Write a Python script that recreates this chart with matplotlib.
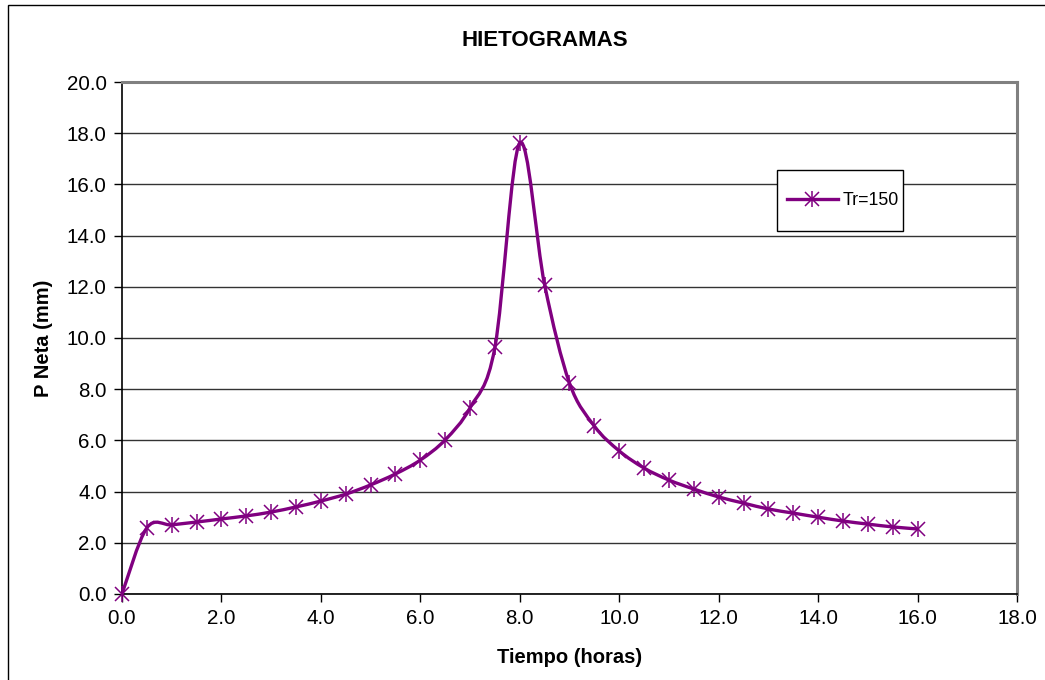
import numpy as np
import matplotlib.pyplot as plt
from matplotlib.path import Path
from matplotlib.patches import PathPatch, Rectangle
from matplotlib.lines import Line2D
from matplotlib.legend_handler import HandlerLine2D, HandlerTuple
from matplotlib.ticker import MultipleLocator, FormatStrFormatter

plt.rcParams['font.family'] = ['Liberation Sans', 'DejaVu Sans']

# tiempo (horas) y precipitacion neta (mm) para Tr=150
tiempo = [0.0, 0.5, 1.0, 1.5, 2.0, 2.5, 3.0, 3.5, 4.0, 4.5, 5.0, 5.5, 6.0,
          6.5, 7.0, 7.5, 8.0, 8.5, 9.0, 9.5, 10.0, 10.5, 11.0, 11.5, 12.0,
          12.5, 13.0, 13.5, 14.0, 14.5, 15.0, 15.5, 16.0]
p_neta = [0.0, 2.58, 2.70, 2.81, 2.93, 3.05, 3.20, 3.40, 3.63, 3.90, 4.26,
          4.69, 5.23, 6.02, 7.27, 9.63, 17.62, 12.08, 8.24, 6.56, 5.59, 4.92,
          4.45, 4.10, 3.79, 3.55, 3.32, 3.16, 3.00, 2.85, 2.73, 2.62, 2.54]
serie = 'Tr=150'

color = '#800080'


class HandlerCentrado(HandlerLine2D):
    # pone la linea de la leyenda a la altura media del texto
    def create_artists(self, legend, orig_handle, xdescent, ydescent,
                       width, height, fontsize, trans):
        arts = super().create_artists(legend, orig_handle, xdescent, ydescent,
                                      width, height, fontsize, trans)
        for a in arts:
            a.set_ydata(np.full_like(a.get_xdata(), 0.36 * fontsize))
        return arts


fig = plt.figure(figsize=(10.45, 6.8), dpi=100)
ax = fig.add_axes([0.1167, 0.1265, 0.8565, 0.7529])

# marco exterior del grafico
fig.add_artist(Rectangle((8 / 1045, -0.1), 1.2, 1.1 - 5 / 680,
                         transform=fig.transFigure, fill=False,
                         edgecolor='black', linewidth=1.0))

# linea suavizada tipo Excel (bezier por segmentos)
x = np.array(tiempo)
y = np.array(p_neta)
n = len(x)
verts = [(x[0], y[0])]
codes = [Path.MOVETO]
for i in range(n - 1):
    i0 = max(i - 1, 0)
    i3 = min(i + 2, n - 1)
    c1 = (x[i] + (x[i + 1] - x[i0]) / 6, y[i] + (y[i + 1] - y[i0]) / 6)
    c2 = (x[i + 1] - (x[i3] - x[i]) / 6, y[i + 1] - (y[i3] - y[i]) / 6)
    verts += [c1, c2, (x[i + 1], y[i + 1])]
    codes += [Path.CURVE4] * 3
ax.add_patch(PathPatch(Path(verts, codes), fill=False, edgecolor=color,
                       linewidth=2.4, zorder=3))

# marcadores asterisco (x + barra vertical)
ax.plot(tiempo, p_neta, linestyle='none', marker='x', markersize=10,
        markeredgewidth=1.1, color=color, zorder=4, clip_on=False)
ax.plot(tiempo, p_neta, linestyle='none', marker='|', markersize=12,
        markeredgewidth=1.1, color=color, zorder=4, clip_on=False)

ax.set_xlim(0, 18)
ax.set_ylim(0, 20)
ax.xaxis.set_major_locator(MultipleLocator(2))
ax.yaxis.set_major_locator(MultipleLocator(2))
ax.xaxis.set_major_formatter(FormatStrFormatter('%.1f'))
ax.yaxis.set_major_formatter(FormatStrFormatter('%.1f'))
ax.grid(axis='y', color='#333333', linewidth=1.0)
ax.set_axisbelow(True)
ax.tick_params(direction='out', length=6, width=1, labelsize=14.8, pad=5)

for s in ['left', 'bottom']:
    ax.spines[s].set_color('black')
    ax.spines[s].set_linewidth(1.2)
for s in ['top', 'right']:
    ax.spines[s].set_color('#808080')
    ax.spines[s].set_linewidth(2.2)

ax.set_xlabel('Tiempo (horas)', fontsize=14.5, fontweight='bold', labelpad=14)
ax.set_ylabel('P Neta (mm)', fontsize=14.5, fontweight='bold', labelpad=9.5)
fig.text(0.5215, 1 - 40 / 680, 'HIETOGRAMAS', fontsize=16,
         fontweight='bold', ha='center', va='center')

h_linea = Line2D([], [], color=color, linewidth=2.4, marker='x',
                 markersize=10, markeredgewidth=1.1)
h_barra = Line2D([], [], color=color, linestyle='none', marker='|',
                 markersize=12, markeredgewidth=1.1)
leg = ax.legend([(h_linea, h_barra)], [serie], loc='upper left',
                bbox_to_anchor=((777 - 122) / 895, (594 - 170) / 512),
                frameon=True, fancybox=False, framealpha=1, fontsize=12.8,
                handlelength=3.2, handleheight=4.2, borderpad=0.22,
                handletextpad=0.28, borderaxespad=0,
                handler_map={Line2D: HandlerCentrado(),
                             tuple: HandlerTuple(ndivide=1, xpad=0.34)})
leg.get_frame().set_edgecolor('black')
leg.get_frame().set_linewidth(1.0)

fig.savefig('out.png', dpi=100)
